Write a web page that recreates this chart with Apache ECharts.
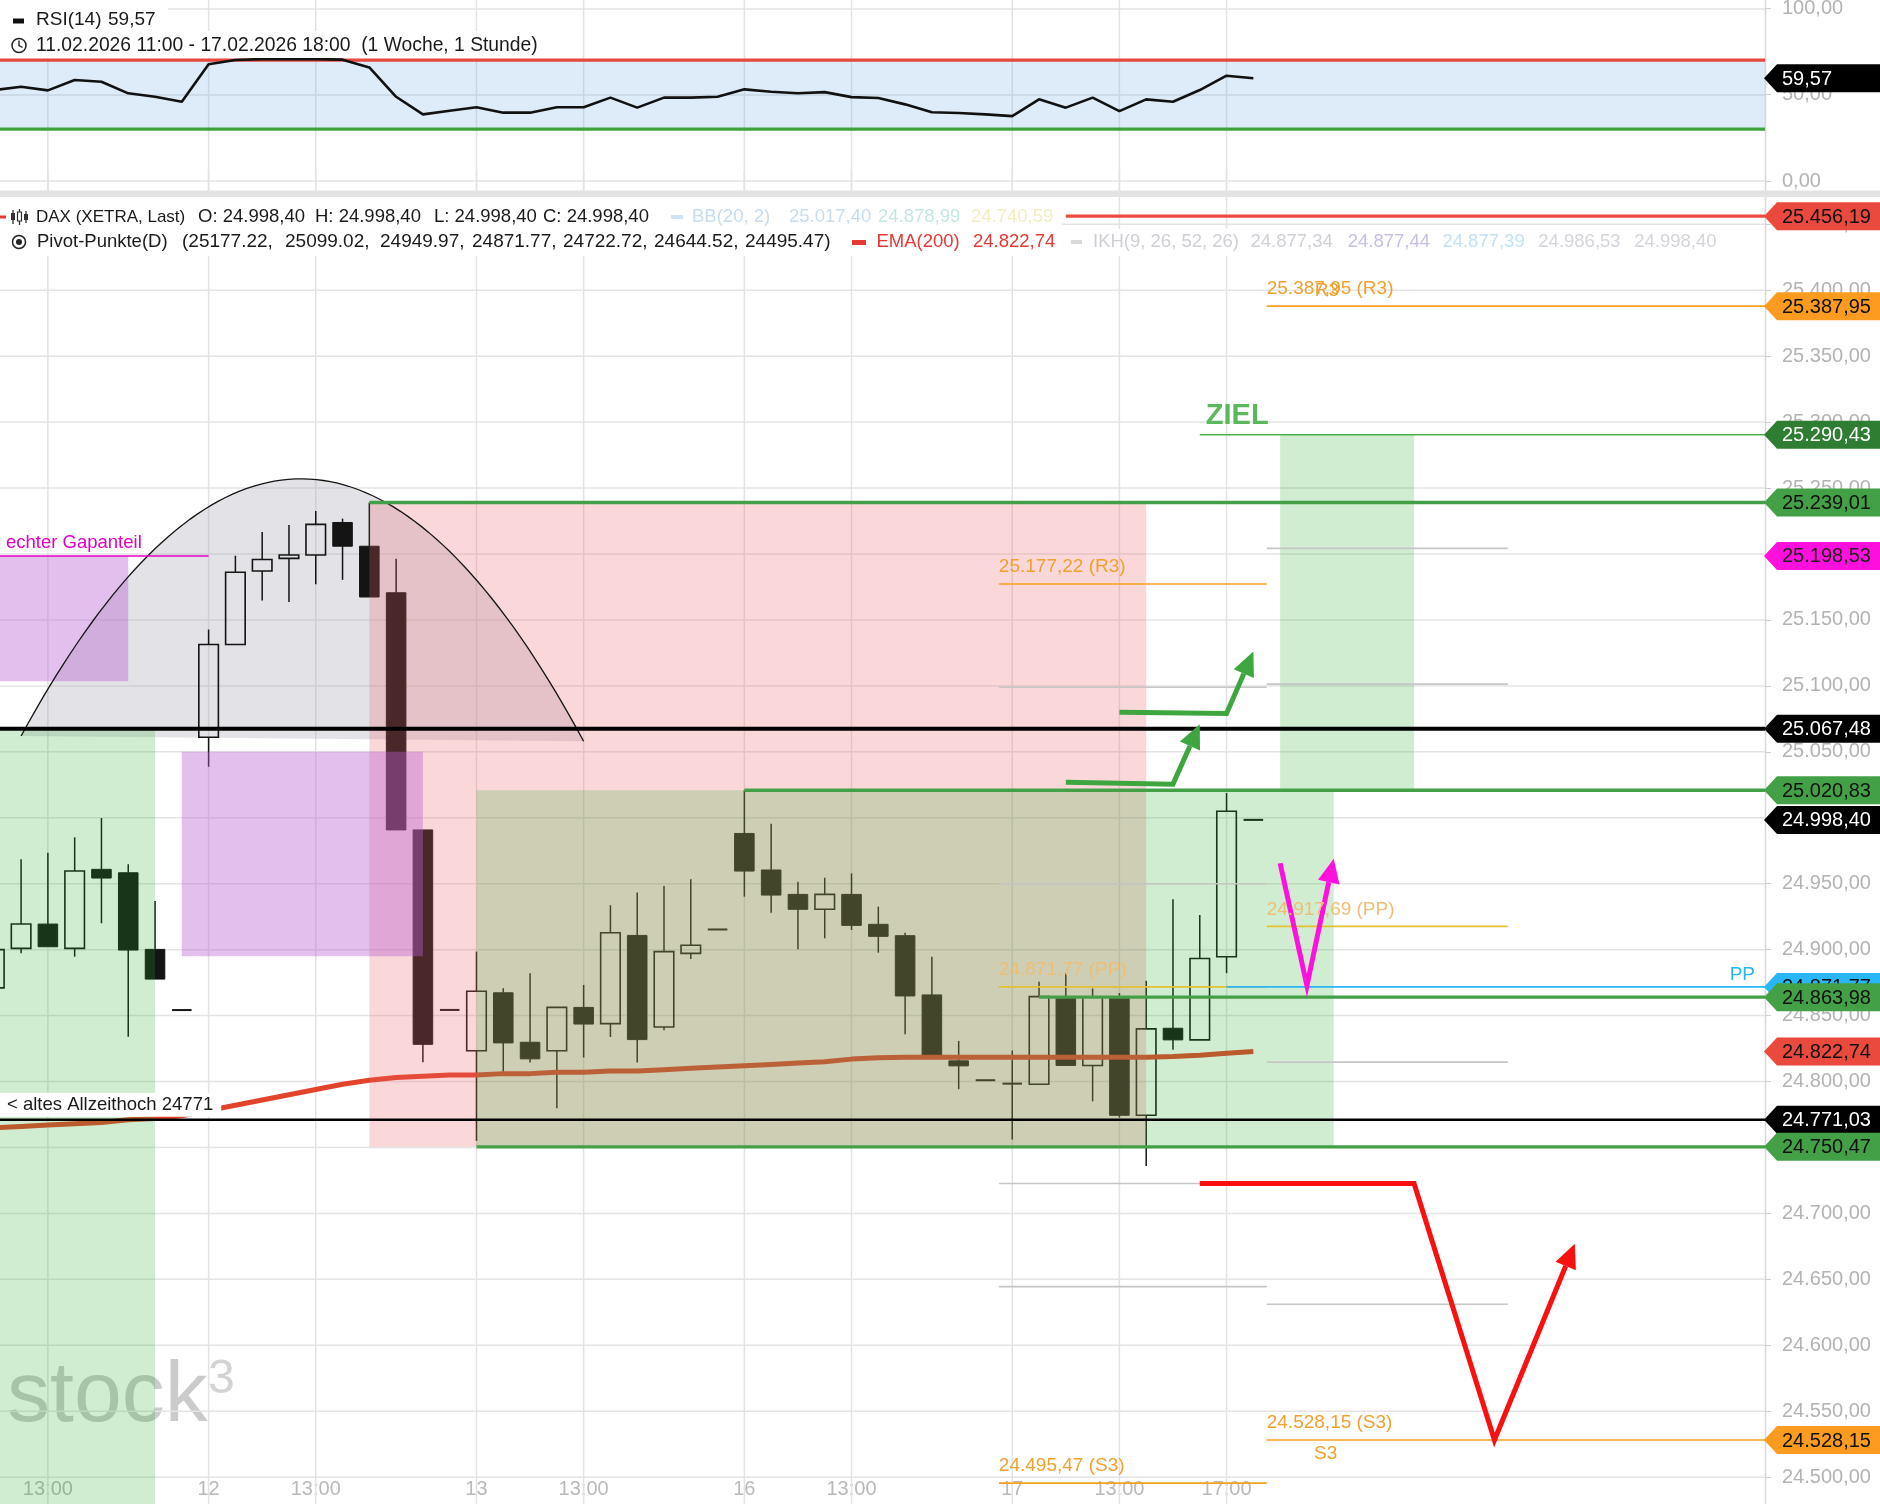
<!DOCTYPE html>
<html>
<head>
<meta charset="utf-8">
<script src="https://cdn.jsdelivr.net/npm/echarts@6.0.0/dist/echarts.min.js"></script>
<style>
html,body{margin:0;padding:0;background:#fff;}
#chart{width:1880px;height:1504px;}
</style>
</head>
<body>
<div id="chart"></div>
<script>
// ================= DATA =================
const xTickIdx = [2, 8, 12, 18, 22, 28, 32, 38, 42, 46];
const xTickLabels = ['13:00', '12', '13:00', '13', '13:00', '16', '13:00', '17', '13:00', '17:00'];
const yTickValues = [24500, 24550, 24600, 24650, 24700, 24750, 24800, 24850, 24900, 24950,
  25000, 25050, 25100, 25150, 25200, 25250, 25300, 25350, 25400, 25450];

const candleOpen = [24871, 24901, 24919.4, 24901, 24960.9, 24958.3, 24900.2, 24854.2,
  25061, 25131.4, 25187.1, 25196.7, 25199.3, 25223.9, 25205.9, 25170.6, 24990.8, 24854.3,
  24823.3, 24867.3, 24829.8, 24823.3, 24856.2, 24843.9, 24910.8, 24841.4, 24897.2, 24915.3,
  24988.1, 24960.4, 24941.9, 24930.6, 24941.9, 24919.2, 24910.6, 24865.7, 24815.7, 24801,
  24798.4, 24797.9, 24863.9, 24812.2, 24863.9, 24774.4, 24840.4, 24831.6, 24894.6, 24998.4];
const candleHigh = [24906, 24968.5, 24973.5, 24985.2, 24999.8, 24964.7, 24936.9, 24854.2,
  25142.7, 25198.7, 25216.7, 25221.9, 25232.6, 25226.8, 25239.01, 25196.4, 24990.8, 24854.3,
  24898.5, 24870.8, 24882.1, 24856.2, 24873.3, 24933.7, 24943.3, 24948.3, 24953.3, 24915.3,
  25020.83, 24995.5, 24951.5, 24954.5, 24957.8, 24932.6, 24912.9, 24894.7, 24830.8, 24801,
  24823.5, 24875.7, 24882.2, 24870.6, 24867.1, 24876.4, 24938.2, 24926.3, 25018.8, 24998.4];
const candleLow = [24864, 24897.2, 24902.2, 24894.7, 24920, 24834, 24877.7, 24854.2,
  25038.7, 25131.4, 25164.8, 25163.6, 25177, 25180.4, 25167.4, 24990.8, 24814.6, 24854.3,
  24755, 24807.4, 24814.5, 24779.7, 24818.2, 24833.8, 24814.5, 24838.9, 24893, 24915.3,
  24940.2, 24928, 24900.3, 24908.6, 24914.9, 24897.7, 24835.9, 24819.5, 24794.2, 24801,
  24756, 24797.9, 24812.2, 24785, 24772.7, 24735.9, 24824.1, 24831.6, 24882.2, 24998.4];
const candleClose = [24900, 24919.4, 24902.2, 24959.6, 24954.3, 24899.7, 24877.7, 24854.2,
  25131.4, 25186.2, 25195.8, 25199.3, 25222.5, 25205.9, 25167.4, 24990.8, 24828.2, 24854.3,
  24868.5, 24829.3, 24817.2, 24856.2, 24843.6, 24912.8, 24831.8, 24898.5, 24903.3, 24915.3,
  24959.6, 24941.4, 24930.6, 24941.9, 24918.4, 24910.1, 24864.9, 24819.5, 24811.9, 24801,
  24798.4, 24864.4, 24812.2, 24863.9, 24774.4, 24839.9, 24831.6, 24893.3, 25004.9, 24998.4];

const ema200 = [24765, 24766, 24767, 24768, 24769, 24771, 24772, 24774,
  24778, 24782, 24786, 24790, 24794, 24798, 24801, 24803, 24804, 24805,
  24805, 24806, 24806, 24807, 24807, 24808, 24808, 24809, 24810, 24811,
  24812, 24813, 24814, 24815, 24817, 24818, 24818.5, 24818.5, 24818.5, 24818.5,
  24818.5, 24818.5, 24818.5, 24818.5, 24818.5, 24818.5, 24819, 24820, 24821.5, 24822.74];

const rsi14 = [52.7, 54.6, 52.5, 58.5, 57.5, 50.8, 48.8, 45.9,
  67.6, 70.1, 70.6, 70.6, 70.6, 70.3, 65.8, 48.8, 38.6, 40.7,
  42.7, 39.6, 39.6, 42.7, 42.7, 48.3, 42.5, 48.3, 48.3, 48.8,
  53.1, 51.7, 50.8, 51.5, 48.6, 48.1, 44.4, 39.8, 39.4, 38.6,
  37.6, 47.3, 42.5, 48.3, 40.5, 47.3, 45.9, 52.7, 61.0, 59.57];
const rsiLevels = [30, 70];
const rsiLast = 59.57;

const pivotNames = ['R3', 'R2', 'R1', 'PP', 'S1', 'S2', 'S3'];
const pivotsDay17 = [25177.22, 25099.02, 24949.97, 24871.77, 24722.72, 24644.52, 24495.47];
const pivotsDay18 = [25387.95, 25204.29, 25101.35, 24917.69, 24814.75, 24631.09, 24528.15];
const pivotSpanDay17 = [37.5, 47.5];
const pivotSpanDay18 = [47.5, 56.5];

// zones: [xStart, xEnd, priceLow, priceHigh]
const zonePink = [[14, 43, 24750.47, 25239.01]];
const zoneGreen = [[0, 6, 24470, 25067.48], [18, 50, 24750.47, 25020.83], [48, 53, 25020.83, 25290.43]];
const zonePurple = [[0, 5, 25103.6, 25198.53], [7, 16, 24895, 25050]];
// dome (quadratic curve): start, control, end  [index, price]
const domeArc = [[1.0, 25062], [11.5, 25454], [22.0, 25058]];

// horizontal levels [xStart, price]
const levelsGreen = [[14, 25239.01], [28, 25020.83], [39, 24863.98], [18, 24750.47]];
const levelsBlack = [[0, 25067.48], [0, 24771.03]];
const levelRed = [40, 25456.19];
const levelZiel = [45, 25290.43];
const levelPP = [46, 24871.77];
const levelGap = [0, 8, 25198.53];

// drawn arrows [index, price]
const arrowGreen1 = [[40, 25027], [44, 25025.5], [45, 25071]];
const arrowGreen2 = [[42, 25080], [46, 25079], [47, 25126]];
const arrowMagenta = [[48, 24965.5], [49, 24872.7], [50, 24969]];
const arrowRed = [[45, 24722.72], [53, 24722.72], [56, 24528.15], [59, 24677]];

// price tags on the right axis
const tagPrices = [25456.19, 25387.95, 25290.43, 25239.01, 25198.53, 25067.48, 25020.83, 24998.40,
  24871.77, 24863.98, 24822.74, 24771.03, 24750.47, 24528.15];
const tagKinds = ['red', 'orange', 'darkgreen', 'green', 'magenta', 'black', 'green', 'black',
  'blue', 'green', 'red', 'black', 'green', 'orange'];

// ================= LAYOUT / STYLE =================
const W = 1880;
const FONT = '"Liberation Sans", Arial, Helvetica, sans-serif';
const font = (s, w) => (w ? w + ' ' : '') + s + 'px ' + FONT;
const X_MIN = -0.5 + 0.7128, X_MAX = 66.1;      // visible index range
const P_MIN = 24479.67, P_MAX = 25470.7;       // visible price range

function de(v) {
  const s = Math.abs(v).toFixed(2).split('.');
  return (v < 0 ? '-' : '') + s[0].replace(/\B(?=(\d{3})+(?!\d))/g, '.') + ',' + s[1];
}
function txtStyle(text, color, f, align, valign, extra) {
  const st = { text: text, fill: color, font: f, align: align || 'left', textAlign: align || 'left',
    verticalAlign: valign || 'middle', textVerticalAlign: valign || 'middle' };
  return Object.assign(st, extra || {});
}

const tagColors = {
  red: ['#ea4a3d', '#111'], orange: ['#fb9b1f', '#111'], darkgreen: ['#2e7d32', '#fff'],
  green: ['#43a047', '#111'], magenta: ['#ff10dc', '#222'], black: ['#000', '#fff'], blue: ['#29b6f6', '#111']
};
function tagGroup(api, y, kind, text) {
  const x0 = api.coord([X_MAX, 50])[0];
  const h = 28;
  const c = tagColors[kind];
  return [
    { type: 'polygon', shape: { points: [[x0 - 1, y], [x0 + 12, y - h / 2], [W, y - h / 2], [W, y + h / 2], [x0 + 12, y + h / 2]] }, style: { fill: c[0] } },
    { type: 'text', x: x0 + 17, y: y + 1, style: txtStyle(text, c[1], font(20)) }
  ];
}

// segments (pivots + levels)
const segItems = [];
[[pivotsDay17, pivotSpanDay17, 0], [pivotsDay18, pivotSpanDay18, 1]].forEach(([vals, span, d]) => {
  vals.forEach((p, k) => {
    const nm = pivotNames[k];
    const outer = nm === 'R3' || nm === 'S3';
    segItems.push({ x1: span[0], x2: (d === 1 && outer) ? X_MAX : span[1], p: p,
      color: outer ? '#f6a11d' : (nm === 'PP' ? '#e3c131' : '#c6c6c6'), w: 1.6 });
  });
});
segItems.push({ x1: levelPP[0], x2: X_MAX, p: levelPP[1], color: '#29b6f6', w: 1.8 });
levelsGreen.forEach(([x, p]) => segItems.push({ x1: x, x2: X_MAX, p: p, color: '#43a047', w: 3.4 }));
segItems.push({ x1: levelsBlack[0][0], x2: X_MAX, p: levelsBlack[0][1], color: '#000', w: 4 });
segItems.push({ x1: levelsBlack[1][0], x2: X_MAX, p: levelsBlack[1][1], color: '#000', w: 2.4 });
segItems.push({ x1: levelRed[0], x2: X_MAX, p: levelRed[1], color: '#ee4a3f', w: 3.2 });
segItems.push({ x1: levelZiel[0], x2: X_MAX, p: levelZiel[1], color: '#4caf50', w: 1.6 });
segItems.push({ x1: levelGap[0], x2: levelGap[1], p: levelGap[2], color: '#e600c8', w: 1.6 });

// zones
const zoneItems = [].concat(
  zonePink.map(z => ({ z: z, fill: 'rgba(235,100,105,0.25)' })),
  zoneGreen.map(z => ({ z: z, fill: 'rgba(45,175,45,0.22)' })),
  zonePurple.map(z => ({ z: z, fill: 'rgba(185,95,210,0.4)' }))
);

// arrows
const arrowItems = [
  { pts: arrowGreen1, color: '#3ea63e' }, { pts: arrowGreen2, color: '#3ea63e' },
  { pts: arrowMagenta, color: '#ff10dc' }, { pts: arrowRed, color: '#fb1010' }
];

// annotation texts
const textItems = [
  { x: X_MIN, p: levelGap[2], dx: 6, dy: -13, text: 'echter Gapanteil', color: '#e000c8', size: 18.5 },
  { x: X_MIN, p: levelsBlack[1][1], dx: 0, dy: -15, text: '< altes Allzeithoch 24771', color: '#1a1a1a', size: 18.5, bg: '#ffffff' },
  { x: levelZiel[0], p: levelZiel[1], dx: 6, dy: -4, text: 'ZIEL', color: '#5cb85c', size: 29, weight: 'bold', valign: 'bottom' },
  { x: X_MAX, p: levelPP[1], dx: -10, dy: -12, text: 'PP', color: '#29b6f6', size: 19, align: 'right' }
];
[[pivotsDay17, pivotSpanDay17], [pivotsDay18, pivotSpanDay18]].forEach(([vals, span]) => {
  vals.forEach((p, k) => {
    const nm = pivotNames[k];
    if (nm === 'R3' || nm === 'S3' || nm === 'PP') {
      textItems.push({ x: span[0], p: p, dx: 0, dy: -17, text: de(p) + ' (' + nm + ')',
        color: nm === 'PP' ? '#f0bd74' : '#f0a12e', size: 19 });
    }
  });
});
textItems.push({ x: 49.75, p: pivotsDay18[0], dx: 0, dy: -15, text: 'R3', color: '#f0a12e', size: 19, align: 'center' });
textItems.push({ x: 49.7, p: pivotsDay18[6], dx: 0, dy: 14, text: 'S3', color: '#f0a12e', size: 19, align: 'center' });

function vgrid(xi, yi, lo, hi) {
  return { type: 'custom', xAxisIndex: xi, yAxisIndex: yi, z: 1, silent: true,
    data: xTickIdx.map(x => [x, lo]),
    renderItem: (params, api) => {
      const a = api.coord([api.value(0), lo]), b = api.coord([api.value(0), hi]);
      return { type: 'line', shape: { x1: a[0], y1: a[1], x2: b[0], y2: b[1] }, style: { stroke: '#e3e3e3', lineWidth: 1.5 } };
    } };
}

function bez(a, c, b, t) { return (1 - t) * (1 - t) * a + 2 * (1 - t) * t * c + t * t * b; }
function domePoints(api) {
  const pts = [];
  for (let k = 0; k <= 80; k++) {
    const t = k / 80;
    pts.push(api.coord([bez(domeArc[0][0], domeArc[1][0], domeArc[2][0], t), bez(domeArc[0][1], domeArc[1][1], domeArc[2][1], t)]));
  }
  return pts;
}

const option = {
  animation: false,
  backgroundColor: '#ffffff',
  grid: [
    { left: 0, right: 115, top: 8.4, height: 172.6, outerBoundsMode: 'none', containLabel: false },
    { left: 0, right: 115, top: 197, bottom: 0, outerBoundsMode: 'none', containLabel: false }
  ],
  xAxis: [
    { gridIndex: 0, type: 'value', min: X_MIN, max: X_MAX, show: false },
    { gridIndex: 1, type: 'value', min: X_MIN, max: X_MAX, offset: -25,
      axisLine: { show: false }, axisTick: { show: false }, splitLine: { show: false },
      axisLabel: { customValues: xTickIdx, margin: 0, color: '#b9b9b9', fontSize: 20, fontFamily: FONT,
        formatter: v => { const k = xTickIdx.indexOf(Math.round(v)); return k >= 0 ? xTickLabels[k] : ''; } } }
  ],
  yAxis: [
    { gridIndex: 0, type: 'value', position: 'right', min: 0, max: 100, interval: 50,
      axisLine: { show: false }, axisTick: { show: true, length: 6, lineStyle: { color: '#cfcfcf' } },
      splitLine: { show: true, lineStyle: { color: '#e3e3e3', width: 1.5 } },
      axisLabel: { margin: 17, color: '#b3b3b3', fontSize: 20, fontFamily: FONT, formatter: v => de(v) } },
    { gridIndex: 1, type: 'value', position: 'right', min: P_MIN, max: P_MAX,
      axisLine: { show: false }, axisTick: { show: true, customValues: yTickValues, length: 6, lineStyle: { color: '#cfcfcf' } },
      splitLine: { show: false },
      axisLabel: { customValues: yTickValues, margin: 17, color: '#b3b3b3', fontSize: 20, fontFamily: FONT,
        formatter: v => (Math.abs(v / 50 - Math.round(v / 50)) < 1e-6 ? de(v) : '') } }
  ],
  series: [
    vgrid(0, 0, -6, 106),
    vgrid(1, 1, P_MIN - 10, P_MAX + 20),
    // horizontal price grid
    { type: 'custom', xAxisIndex: 1, yAxisIndex: 1, z: 1, silent: true,
      data: yTickValues.map(v => [X_MIN, v]),
      renderItem: (params, api) => {
        const a = api.coord([X_MIN, api.value(1)]), b = api.coord([X_MAX, api.value(1)]);
        return { type: 'line', shape: { x1: a[0], y1: a[1], x2: b[0], y2: b[1] }, style: { stroke: '#e4e4e4', lineWidth: 1.5 } };
      } },
    // RSI band
    { type: 'custom', xAxisIndex: 0, yAxisIndex: 0, z: 1, silent: true, data: [[X_MIN, rsiLevels[1]]],
      renderItem: (params, api) => {
        const a = api.coord([X_MIN, rsiLevels[1]]), b = api.coord([X_MAX, rsiLevels[0]]);
        return { type: 'rect', shape: { x: a[0], y: a[1], width: b[0] - a[0], height: b[1] - a[1] }, style: { fill: 'rgba(105,165,225,0.22)' } };
      } },
    // RSI 70/30 lines
    { type: 'custom', xAxisIndex: 0, yAxisIndex: 0, z: 3, silent: true, data: rsiLevels.map(v => [X_MIN, v]),
      renderItem: (params, api) => {
        const v = api.value(1);
        const a = api.coord([X_MIN, v]), b = api.coord([X_MAX, v]);
        return { type: 'line', shape: { x1: a[0], y1: a[1], x2: b[0], y2: b[1] },
          style: { stroke: v > 50 ? '#e8473c' : '#3ea33e', lineWidth: 3.2 } };
      } },
    { type: 'line', xAxisIndex: 0, yAxisIndex: 0, z: 4, silent: true, symbol: 'none',
      data: rsi14.map((v, i) => [i, v]), lineStyle: { color: '#111', width: 2.6 } },
    { type: 'custom', xAxisIndex: 0, yAxisIndex: 0, z: 9, silent: true, data: [[X_MAX, rsiLast]],
      renderItem: (params, api) => ({ type: 'group', children: tagGroup(api, api.coord([X_MAX, rsiLast])[1], 'black', de(rsiLast)) }) },

    // dome fill
    { type: 'custom', xAxisIndex: 1, yAxisIndex: 1, z: 1, silent: true, data: [domeArc[1]],
      renderItem: (params, api) => ({ type: 'polygon', shape: { points: domePoints(api) }, style: { fill: 'rgba(160,160,175,0.3)' } }) },
    // candles
    { type: 'custom', xAxisIndex: 1, yAxisIndex: 1, z: 2, silent: true,
      data: candleOpen.map((o, i) => [i, o, candleHigh[i], candleLow[i], candleClose[i]]),
      renderItem: (params, api) => {
        const i = api.value(0), o = api.value(1), h = api.value(2), l = api.value(3), c = api.value(4);
        const pO = api.coord([i, o]), pC = api.coord([i, c]);
        const x = pO[0];
        const yH = api.coord([i, h])[1], yL = api.coord([i, l])[1];
        const top = Math.min(pO[1], pC[1]), bot = Math.max(pO[1], pC[1]);
        const bw = api.size([1, 0])[0] * 0.73;
        const ink = '#141414';
        const ch = [];
        if (top - yH > 0.5) ch.push({ type: 'line', shape: { x1: x, y1: yH, x2: x, y2: top }, style: { stroke: ink, lineWidth: 1.5 } });
        if (yL - bot > 0.5) ch.push({ type: 'line', shape: { x1: x, y1: bot, x2: x, y2: yL }, style: { stroke: ink, lineWidth: 1.5 } });
        if (bot - top < 2) {
          const ym = (top + bot) / 2;
          ch.push({ type: 'line', shape: { x1: x - bw / 2, y1: ym, x2: x + bw / 2, y2: ym }, style: { stroke: ink, lineWidth: 2 } });
        } else if (c > o) {
          ch.push({ type: 'rect', shape: { x: x - bw / 2, y: top, width: bw, height: bot - top }, style: { fill: 'none', stroke: ink, lineWidth: 1.6 } });
        } else {
          ch.push({ type: 'rect', shape: { x: x - bw / 2, y: top, width: bw, height: bot - top }, style: { fill: ink, stroke: ink, lineWidth: 1 } });
        }
        return { type: 'group', children: ch };
      } },
    // EMA 200
    { type: 'line', xAxisIndex: 1, yAxisIndex: 1, z: 3, silent: true, symbol: 'none',
      data: ema200.map((v, i) => [i, v]), lineStyle: { color: '#e2432d', width: 5 } },
    // zones
    { type: 'custom', xAxisIndex: 1, yAxisIndex: 1, z: 4, silent: true,
      data: zoneItems.map(it => [it.z[0], it.z[2]]),
      renderItem: (params, api) => {
        const it = zoneItems[params.dataIndex];
        const x1 = Math.max(it.z[0], X_MIN);
        const a = api.coord([x1, it.z[3]]), b = api.coord([it.z[1], it.z[2]]);
        return { type: 'rect', shape: { x: a[0], y: a[1], width: b[0] - a[0], height: b[1] - a[1] }, style: { fill: it.fill } };
      } },
    // dome stroke
    { type: 'custom', xAxisIndex: 1, yAxisIndex: 1, z: 5, silent: true, data: [domeArc[1]],
      renderItem: (params, api) => ({ type: 'polyline', shape: { points: domePoints(api) }, style: { stroke: '#151515', lineWidth: 1.3, fill: 'none' } }) },
    // segments
    { type: 'custom', xAxisIndex: 1, yAxisIndex: 1, z: 6, silent: true,
      data: segItems.map(s => [s.x1, s.p]),
      renderItem: (params, api) => {
        const s = segItems[params.dataIndex];
        const a = api.coord([Math.max(s.x1, X_MIN), s.p]), b = api.coord([s.x2, s.p]);
        return { type: 'line', shape: { x1: a[0], y1: a[1], x2: b[0], y2: b[1] }, style: { stroke: s.color, lineWidth: s.w } };
      } },
    // arrows
    { type: 'custom', xAxisIndex: 1, yAxisIndex: 1, z: 7, silent: true,
      data: arrowItems.map(a => a.pts[0]),
      renderItem: (params, api) => {
        const it = arrowItems[params.dataIndex];
        const pts = it.pts.map(p => api.coord(p));
        const n = pts.length;
        const tip = pts[n - 1], prev = pts[n - 2];
        const ang = Math.atan2(tip[1] - prev[1], tip[0] - prev[0]);
        const L = 24, hw = 11;
        const base = [tip[0] - L * Math.cos(ang), tip[1] - L * Math.sin(ang)];
        const left = [base[0] - hw * Math.sin(ang), base[1] + hw * Math.cos(ang)];
        const right = [base[0] + hw * Math.sin(ang), base[1] - hw * Math.cos(ang)];
        const linePts = pts.slice(0, n - 1).concat([base]);
        return { type: 'group', children: [
          { type: 'polyline', shape: { points: linePts }, style: { stroke: it.color, lineWidth: 5, fill: 'none', lineJoin: 'miter' } },
          { type: 'polygon', shape: { points: [tip, left, right] }, style: { fill: it.color } }
        ] };
      } },
    // annotation texts
    { type: 'custom', xAxisIndex: 1, yAxisIndex: 1, z: 8, silent: true,
      data: textItems.map(t => [t.x, t.p]),
      renderItem: (params, api) => {
        const t = textItems[params.dataIndex];
        const p = api.coord([t.x, t.p]);
        const extra = t.bg ? { backgroundColor: t.bg, padding: [3, 8, 2, 7], textBackgroundColor: t.bg, textPadding: [3, 8, 2, 7] } : null;
        return { type: 'text', x: p[0] + t.dx, y: p[1] + t.dy,
          style: txtStyle(t.text, t.color, font(t.size, t.weight), t.align, t.valign, extra) };
      } },
    // price tags
    { type: 'custom', xAxisIndex: 1, yAxisIndex: 1, z: 9, silent: true,
      data: tagPrices.map(p => [X_MAX, p]),
      renderItem: (params, api) => {
        const p = tagPrices[params.dataIndex];
        return { type: 'group', children: tagGroup(api, api.coord([X_MAX, p])[1], tagKinds[params.dataIndex], de(p)) };
      } }
  ],
  graphic: []
};

// ---------- legend / decoration graphics ----------
const G = option.graphic;
function gt(x, y, text, color, size, z) {
  G.push({ type: 'text', x: x, y: y, z: z || 21, silent: true, style: txtStyle(text, color, font(size || 18.5)) });
}
function gr(x, y, w, h, fill, z) {
  G.push({ type: 'rect', shape: { x: x, y: y, width: w, height: h }, style: { fill: fill }, z: z || 21, silent: true });
}
// axis line
G.push({ type: 'line', shape: { x1: 1765.5, y1: 0, x2: 1765.5, y2: 1504 }, style: { stroke: '#d8d8d8', lineWidth: 1.5 }, z: 0, silent: true });
// watermark
G.push({ type: 'text', x: 7, y: 1440, z: 1, silent: true, style: txtStyle('stock', 'rgba(130,130,130,0.42)', font(86), 'left', 'bottom') });
G.push({ type: 'text', x: 208, y: 1356, z: 1, silent: true, style: txtStyle('3', 'rgba(130,130,130,0.35)', font(48), 'left', 'top') });
// panel separator
gr(0, 190.5, W, 6.5, '#e3e3e3', 20);
// legend backgrounds
gr(0, 0, 168, 31, '#ffffff', 5.5);
gr(0, 31, 548, 27, '#ffffff', 5.5);
gr(0, 197, 1062, 32, '#ffffff', 5.5);
gr(0, 229, 1730, 27, '#ffffff', 5.5);
// RSI legend
gr(13, 18.5, 11, 5, '#111');
gt(36, 20, 'RSI(14)', '#1a1a1a', 19);
gt(108, 20, '59,57', '#1a1a1a', 19);
G.push({ type: 'circle', shape: { cx: 19, cy: 45.5, r: 7 }, style: { fill: 'none', stroke: '#222', lineWidth: 1.5 }, z: 21, silent: true });
G.push({ type: 'polyline', shape: { points: [[19, 40.5], [19, 45.5], [22.5, 47.5]] }, style: { fill: 'none', stroke: '#222', lineWidth: 1.4 }, z: 21, silent: true });
gt(36, 45.5, '11.02.2026 11:00 - 17.02.2026 18:00  (1 Woche, 1 Stunde)', '#1a1a1a', 19.3);
// main legend row 1
gr(0, 215.5, 6, 3, '#e53935');
G.push({ type: 'line', shape: { x1: 13, y1: 210, x2: 13, y2: 224 }, style: { stroke: '#333', lineWidth: 1.3 }, z: 21, silent: true });
gr(11, 213, 4, 7, '#333');
G.push({ type: 'line', shape: { x1: 19.5, y1: 209, x2: 19.5, y2: 225 }, style: { stroke: '#333', lineWidth: 1.3 }, z: 21, silent: true });
G.push({ type: 'rect', shape: { x: 17.5, y: 212, width: 4, height: 9 }, style: { fill: '#fff', stroke: '#333', lineWidth: 1.2 }, z: 21, silent: true });
G.push({ type: 'line', shape: { x1: 26, y1: 211, x2: 26, y2: 223 }, style: { stroke: '#333', lineWidth: 1.3 }, z: 21, silent: true });
gr(24, 214, 4, 6, '#333');
gt(36, 217, 'DAX (XETRA, Last)', '#1a1a1a', 17);
gt(198, 217, 'O: 24.998,40', '#1a1a1a');
gt(315, 217, 'H: 24.998,40', '#1a1a1a');
gt(434, 217, 'L: 24.998,40', '#1a1a1a');
gt(543, 217, 'C: 24.998,40', '#1a1a1a');
gr(671, 215, 12, 4, '#cfe4f3');
gt(692, 217, 'BB(20, 2)', '#c7ddef');
gt(789, 217, '25.017,40', '#c7ddef');
gt(878, 217, '24.878,99', '#c4e6e4');
gt(971, 217, '24.740,59', '#f3edc0');
// main legend row 2
G.push({ type: 'circle', shape: { cx: 19, cy: 242, r: 6.5 }, style: { fill: 'none', stroke: '#222', lineWidth: 1.5 }, z: 21, silent: true });
G.push({ type: 'circle', shape: { cx: 19, cy: 242, r: 3 }, style: { fill: '#222' }, z: 21, silent: true });
gt(37, 242, 'Pivot-Punkte(D)', '#1a1a1a');
const pivLegendX = [182, 285, 380, 472, 563, 654, 745];
pivotsDay17.forEach((v, k) => {
  const s = (k === 0 ? '(' : '') + v.toFixed(2) + (k === pivotsDay17.length - 1 ? ')' : ',');
  gt(pivLegendX[k], 242, s, '#1a1a1a', 19);
});
gr(852, 240, 14, 5, '#e53935');
gt(876.5, 242, 'EMA(200)', '#e53935');
gt(973, 242, de(ema200[ema200.length - 1]), '#e53935');
gr(1071, 240, 11, 4, '#d9d9d9');
gt(1093, 242, 'IKH(9, 26, 52, 26)', '#cfcfd6');
gt(1250.5, 242, '24.877,34', '#d0d0d8');
gt(1347.7, 242, '24.877,44', '#c9bfe6');
gt(1442.4, 242, '24.877,39', '#c3e2f2');
gt(1538.3, 242, '24.986,53', '#d4d4dc');
gt(1634.2, 242, '24.998,40', '#d4d4dc');

const chart = echarts.init(document.getElementById('chart'), null, { renderer: 'canvas' });
chart.setOption(option);
</script>
</body>
</html>
